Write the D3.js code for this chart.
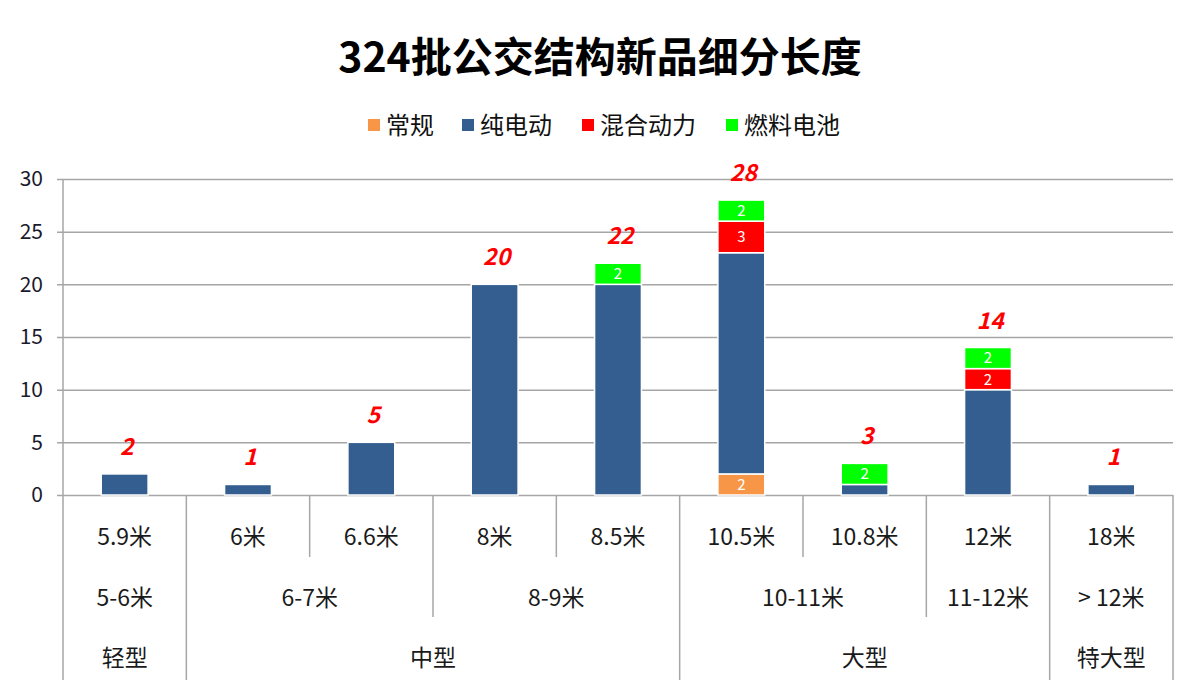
<!DOCTYPE html>
<html><head><meta charset="utf-8">
<script src="https://cdn.jsdelivr.net/npm/d3@7"></script>
<style>body{margin:0;background:#fff;} text{font-family:"Noto Sans CJK SC","Noto Sans",sans-serif;}</style>
</head><body>
<svg id="c" width="1200" height="691"></svg>
<script>
const categories = ["5.9米","6米","6.6米","8米","8.5米","10.5米","10.8米","12米","18米"];
const conventional = [0,0,0,0,0,2,0,0,0];
const electric     = [2,1,5,20,20,21,1,10,1];
const hybrid       = [0,0,0,0,0,3,0,2,0];
const fuelCell     = [0,0,0,0,2,2,2,2,0];
const seriesNames  = ["常规","纯电动","混合动力","燃料电池"];
const seriesColors = ["#F79646","#345E8F","#FF0000","#00FF00"];
const lengthGroups = ["5-6米","6-7米","8-9米","10-11米","11-12米","> 12米"];
const lengthSpans  = [1,2,2,2,1,1];
const sizeGroups   = ["轻型","中型","大型","特大型"];
const sizeSpans    = [1,4,3,1];
const yTicks = [0,5,10,15,20,25,30];
const title = "324批公交结构新品细分长度";

const svg = d3.select("#c");
const L=63,R=1173,T=179,B=495;
const x = d3.scaleBand().domain(categories).range([L,R]).paddingInner(0.62).paddingOuter(0.31);
const y = d3.scaleLinear().domain([0,30]).range([B,T]);
const step = x.step();
const numFont = '"Noto Sans","Noto Sans CJK SC",sans-serif';

// title
svg.append("text").attr("x",600).attr("y",72).attr("text-anchor","middle")
  .attr("font-size",41).attr("font-weight","bold").attr("fill","#000").text(title);

// legend
const legX=[368,462,582,726];
seriesNames.forEach((n,i)=>{
  svg.append("rect").attr("x",legX[i]).attr("y",119).attr("width",12).attr("height",12).attr("fill",seriesColors[i]);
  svg.append("text").attr("x",legX[i]+18).attr("y",134).attr("font-size",24).attr("fill","#111").text(n);
});

// grid
const yAxis = d3.axisLeft(y).tickValues(yTicks).tickSize(-(R-L)).tickPadding(20);
const ga = svg.append("g").attr("transform",`translate(${L},0)`).call(yAxis);
ga.select(".domain").remove();
ga.selectAll(".tick line").attr("stroke","#a6a6a6").attr("stroke-width",1.5).attr("x1",-6);
ga.selectAll(".tick text").attr("font-size",21).attr("fill","#1a1a2e").attr("font-family",numFont);

// stacked bars
const data = categories.map((c,i)=>({cat:c, v:[conventional[i],electric[i],hybrid[i],fuelCell[i]]}));
const stack = d3.stack().keys([0,1,2,3]).value((d,k)=>d.v[k]);
const layers = stack(data);
const bw = x.bandwidth();
layers.forEach((layer,k)=>{
  const g = svg.append("g");
  layer.forEach((s,i)=>{
    if(s[1]-s[0]<=0) return;
    g.append("rect").attr("x",x(data[i].cat)).attr("y",y(s[1])).attr("width",bw).attr("height",y(s[0])-y(s[1]))
      .attr("fill",seriesColors[k]).attr("stroke","#fff").attr("stroke-width",1.5);
    if(k!==1){
      g.append("text").attr("x",x(data[i].cat)+bw/2).attr("y",(y(s[0])+y(s[1]))/2).attr("dy","0.36em").attr("text-anchor","middle")
        .attr("font-size",15).attr("fill","#fff").attr("font-family",'"Liberation Sans",sans-serif').text(s[1]-s[0]);
    }
  });
});

// totals
data.forEach(d=>{
  const t=d3.sum(d.v);
  svg.append("text").attr("x",x(d.cat)+bw/2+2).attr("y",y(t)-19).attr("text-anchor","middle")
    .attr("font-size",23).attr("font-weight","bold").attr("font-style","italic").attr("fill","#FF0000")
    .attr("font-family",numFont).text(t);
});

// axis line + category structure
const lineC="#a6a6a6";
svg.append("line").attr("x1",L).attr("x2",L).attr("y1",T).attr("y2",680).attr("stroke",lineC).attr("stroke-width",1.5);
svg.append("line").attr("x1",R).attr("x2",R).attr("y1",B).attr("y2",680).attr("stroke",lineC).attr("stroke-width",1.5);
const bottomOf = {};
for(let i=1;i<categories.length;i++) bottomOf[i]=557;
let acc=0; lengthSpans.forEach(s=>{acc+=s; if(acc<categories.length) bottomOf[acc]=617;});
acc=0; sizeSpans.forEach(s=>{acc+=s; if(acc<categories.length) bottomOf[acc]=680;});
Object.keys(bottomOf).forEach(i=>{
  const xx=L+step*i;
  svg.append("line").attr("x1",xx).attr("x2",xx).attr("y1",B).attr("y2",bottomOf[i]).attr("stroke",lineC).attr("stroke-width",1.5);
});
categories.forEach(c=>{
  svg.append("text").attr("x",x(c)+bw/2).attr("y",545).attr("text-anchor","middle").attr("font-size",23).attr("fill","#1a1a1a").text(c);
});
acc=0;
lengthGroups.forEach((g,i)=>{
  const cx=L+step*(acc+lengthSpans[i]/2); acc+=lengthSpans[i];
  svg.append("text").attr("x",cx).attr("y",606).attr("text-anchor","middle").attr("font-size",23).attr("fill","#1a1a1a").text(g);
});
acc=0;
sizeGroups.forEach((g,i)=>{
  const cx=L+step*(acc+sizeSpans[i]/2);
  acc+=sizeSpans[i];
  svg.append("text").attr("x",cx).attr("y",666).attr("text-anchor","middle").attr("font-size",23).attr("fill","#1a1a1a").text(g);
});
</script>
</body></html>
